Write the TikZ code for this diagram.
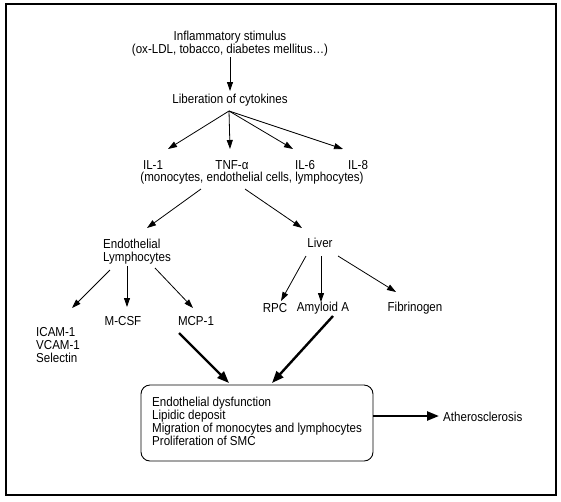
\documentclass[tikz,border=0pt]{standalone}
\usepackage{fontspec}
\setmainfont{Liberation Sans}[FakeStretch=0.89]
\usetikzlibrary{arrows.meta}
\begin{document}
\begin{tikzpicture}[x=1pt,y=-1pt,
  txt/.style={inner sep=0pt, font=\fontsize{13}{12.8}\selectfont, align=center},
  ltxt/.style={txt, align=left, anchor=west},
  thin/.style={line width=0.8pt, -{Triangle[length=9pt,width=6pt]}},
  thick/.style={line width=2.4pt, -{Triangle[length=12pt,width=9pt]}}]
\useasboundingbox (0,0) rectangle (561,501);
\draw[line width=2pt] (6,4) rectangle (556,495);

\node[txt] (stim) at (230,43.5) {Inflammatory stimulus\\(ox-LDL, tobacco, diabetes mellitus\ldots)};
\node[txt] (lib) at (230,100) {Liberation of cytokines};
\node[txt] (il1) at (153,165) {IL-1};
\node[txt] (tnf) at (232,165) {TNF-α};
\node[txt] (il6) at (305,165) {IL-6};
\node[txt] (il8) at (358,165) {IL-8};
\node[txt] (cells) at (252,178) {(monocytes, endothelial cells, lymphocytes)};
\node[ltxt] (endo) at (103,251.5) {Endothelial\\Lymphocytes};
\node[txt] (liver) at (320,243) {Liver};
\node[ltxt] (icam) at (36,345) {ICAM-1\\VCAM-1\\Selectin};
\node[txt] (mcsf) at (123,321) {M-CSF};
\node[txt] (mcp) at (196,321) {MCP-1};
\node[txt] (rpc) at (275,308) {RPC};
\node[txt] (amy) at (323,308) {Amyloid A};
\node[txt] (fib) at (415,308) {Fibrinogen};
\draw[line width=0.9pt, rounded corners=9pt] (141,385) rectangle (373,461);
\node[ltxt] (box) at (152,421.5) {Endothelial dysfunction\\Lipidic deposit\\Migration of monocytes and lymphocytes\\Proliferation of SMC};
\node[ltxt] (ath) at (443,417) {Atherosclerosis};

\coordinate (stim-s) at (230,57);
\coordinate (lib-in) at (230,91);
\coordinate (lib-s) at (229,111);
\coordinate (il1-n) at (168,149);
\coordinate (tnf-n) at (230,149);
\coordinate (il6-n) at (293,149);
\coordinate (il8-n) at (343,149);
\coordinate (cells-sl) at (201,189);
\coordinate (cells-sr) at (245,189);
\coordinate (endo-n) at (147,228);
\coordinate (liver-n) at (302,228);
\coordinate (endo-sl) at (110,270);
\coordinate (endo-sm) at (127,266);
\coordinate (endo-sr) at (155,268);
\coordinate (icam-n) at (72,308);
\coordinate (mcsf-n) at (127,307);
\coordinate (mcp-n) at (193,308);
\coordinate (liver-sl) at (306,256);
\coordinate (liver-sm) at (321,256);
\coordinate (liver-sr) at (338,256);
\coordinate (rpc-n) at (281,301);
\coordinate (amy-n) at (321,302);
\coordinate (fib-n) at (396,292);
\coordinate (mcp-s) at (179,333);
\coordinate (amy-s) at (333,316);
\coordinate (box-nl) at (229,383);
\coordinate (box-nr) at (272,383);
\coordinate (box-e) at (373,416);
\coordinate (ath-w) at (439,416);

\draw[thin] (stim-s) -- (lib-in);
\draw[thin] (lib-s) -- (il1-n);
\draw[thin] (lib-s) -- (tnf-n);
\draw[thin] (lib-s) -- (il6-n);
\draw[thin] (lib-s) -- (il8-n);
\draw[thin] (cells-sl) -- (endo-n);
\draw[thin] (cells-sr) -- (liver-n);
\draw[thin] (endo-sl) -- (icam-n);
\draw[thin] (endo-sm) -- (mcsf-n);
\draw[thin] (endo-sr) -- (mcp-n);
\draw[thin] (liver-sl) -- (rpc-n);
\draw[thin] (liver-sm) -- (amy-n);
\draw[thin] (liver-sr) -- (fib-n);
\draw[thick] (mcp-s) -- (box-nl);
\draw[thick] (amy-s) -- (box-nr);
\draw[thick] (box-e) -- (ath-w);
\end{tikzpicture}
\end{document}
